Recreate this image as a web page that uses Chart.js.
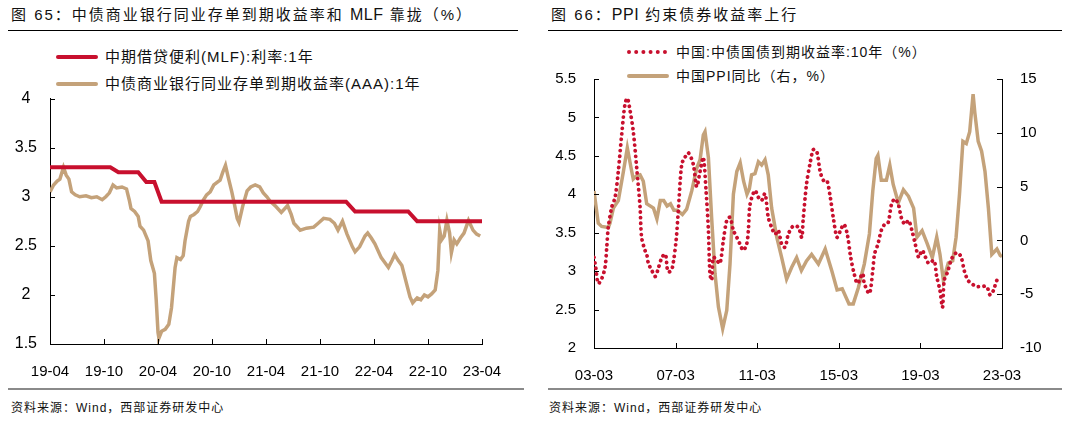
<!DOCTYPE html>
<html>
<head>
<meta charset="utf-8">
<script src="https://cdn.jsdelivr.net/npm/chart.js@4"></script>
<style>
  body { margin:0; width:1069px; height:424px; background:#fff; position:relative; overflow:hidden;
         font-family:'Liberation Sans','Noto Sans CJK SC',sans-serif; color:#111; }
  .abs { position:absolute; white-space:nowrap; }
  .title { font-size:15px; letter-spacing:2px; line-height:18px; }
  .title b { font-weight:normal; letter-spacing:0.5px; font-size:16px; }
  .rule { height:1px; background:#000; }
  .foot { height:2px; background:#8a8a8a; }
  .src { font-size:12px; letter-spacing:1px; line-height:14px; }
  .leg { font-size:15px; letter-spacing:1px; line-height:18px; }
  .leg2 { font-size:14px; letter-spacing:1px; line-height:18px; }
  canvas { position:absolute; }
</style>
</head>
<body>
<div class="abs title" style="left:11px;top:6px">图 65：中债商业银行同业存单到期收益率和 <b>MLF</b> 靠拢（%）</div>
<div class="abs rule" style="left:8px;top:30px;width:510px"></div>
<div class="abs title" style="left:551px;top:6px">图 66：<b>PPI</b> 约束债券收益率上行</div>
<div class="abs rule" style="left:548px;top:30px;width:514px"></div>

<div class="abs" style="left:56px;top:55px;width:42px;height:4px;background:#C8102E;border-radius:2px"></div>
<div class="abs leg" style="left:105px;top:48px">中期借贷便利(MLF):利率:1年</div>
<div class="abs" style="left:56px;top:82px;width:42px;height:4px;background:#C4A27A;border-radius:2px"></div>
<div class="abs leg" style="left:105px;top:75px">中债商业银行同业存单到期收益率(AAA):1年</div>

<div class="abs" style="left:627px;top:50px;width:40px;height:0;border-top:4px dotted #C8102E"></div>
<div class="abs leg2" style="left:676px;top:43px">中国:中债国债到期收益率:10年（%）</div>
<div class="abs" style="left:627px;top:74px;width:42px;height:4px;background:#C4A27A;border-radius:2px"></div>
<div class="abs leg2" style="left:676px;top:67px">中国PPI同比（右，%）</div>

<canvas id="c1" width="530" height="296" style="left:0;top:84px;width:530px;height:296px"></canvas>
<canvas id="c2" width="529" height="320" style="left:540px;top:60px;width:529px;height:320px"></canvas>

<div class="abs foot" style="left:8px;top:388px;width:516px"></div>
<div class="abs foot" style="left:548px;top:388px;width:514px"></div>
<div class="abs src" style="left:11px;top:401px">资料来源：Wind，西部证券研发中心</div>
<div class="abs src" style="left:549px;top:401px">资料来源：Wind，西部证券研发中心</div>

<script>
// ---- left chart: months since 2019-04
var leftTicks = ["19-04","19-10","20-04","20-10","21-04","21-10","22-04","22-10","23-04"];
var mlfMonths = [0, 6.7, 7.6, 9.8, 10.7, 11.6, 12.4, 32.9, 33.9, 39.8, 40.8, 48];
var mlfRate   = [3.30, 3.30, 3.25, 3.25, 3.15, 3.15, 2.95, 2.95, 2.85, 2.85, 2.75, 2.75];
var ncdMonths = [0,0.4,0.8,1.1,1.5,1.8,2.1,2.4,2.8,3.3,4.0,4.6,5.2,5.8,6.2,6.6,7.0,7.4,8.0,8.5,
  8.8,9.0,9.4,9.8,10.0,10.4,10.9,11.2,11.6,11.8,12.0,12.1,12.4,12.8,13.2,13.5,13.9,14.1,14.5,14.8,
  15.0,15.4,15.6,16.0,16.4,16.7,17.0,17.4,17.8,18.2,18.6,18.9,19.2,19.5,19.8,20.2,20.5,20.8,21.0,21.4,
  21.9,22.3,22.8,23.3,23.7,24.1,24.5,25.0,25.7,26.4,26.8,27.1,27.8,28.5,29.3,29.8,30.4,31.1,31.6,32.0,
  32.5,33.0,33.6,33.9,34.4,35.0,35.3,35.7,36.1,36.8,37.2,37.6,38.0,38.3,38.7,39.1,39.6,40.0,40.3,40.8,
  41.2,41.6,42.0,42.4,42.8,43.1,43.3,43.5,43.8,44.1,44.4,44.6,44.9,45.2,45.6,46.0,46.5,47.0,47.4,47.8];
var ncdYield  = [3.05,3.12,3.16,3.18,3.30,3.22,3.18,3.05,3.02,3.00,3.01,2.99,3.00,2.97,3.00,3.04,3.12,3.09,3.10,3.08,
  2.97,2.88,2.85,2.80,2.70,2.66,2.55,2.35,2.22,1.95,1.62,1.56,1.63,1.65,1.70,1.87,2.28,2.38,2.36,2.40,
  2.55,2.75,2.80,2.82,2.85,2.90,2.96,3.02,3.05,3.12,3.15,3.17,3.25,3.32,3.20,3.05,2.92,2.78,2.74,2.90,
  3.06,3.10,3.12,3.10,3.04,3.00,2.95,2.91,2.84,2.91,2.82,2.73,2.66,2.68,2.69,2.73,2.78,2.77,2.73,2.66,
  2.75,2.62,2.49,2.44,2.49,2.60,2.63,2.58,2.52,2.38,2.33,2.28,2.35,2.41,2.35,2.30,2.12,1.98,1.92,1.97,
  1.95,2.00,1.98,2.01,2.05,2.25,2.66,2.56,2.60,2.76,2.63,2.43,2.56,2.52,2.58,2.63,2.76,2.66,2.62,2.60];

// ---- right chart: months since 2003-03
var rightTicks = ["03-03","07-03","11-03","15-03","19-03","23-03"];
var bondMonths = [0,1,2.5,4.5,6.5,7.5,8.4,10.4,12.4,14.3,16.3,18.2,19.6,21.2,23.1,25.1,27.1,28,30,31,
  32,34,36,38,40,42,43.5,45.5,46.7,48.3,49.6,51.6,53.5,55.5,58.4,60.4,62.4,64.3,65.9,67.3,
  68.2,69.2,70.2,72.2,74.1,76.1,78.1,80,82,84,85.9,87.8,89.8,90.8,91.8,94.7,96.7,98.6,100.6,102.5,
  104.5,106.5,108.4,110.4,112.4,114.3,117.3,120.2,122.2,123,125,127,129,131,133,135,137,139,141,143,
  145,147,149,151,153,155,158,159,162,164,165,167,169,171,173,175,177,179,181,183,
  185,187,189,191,193,195,197,200,201.6,203.5,205,206,208,210,212,214,216,218,220,222,
  225,228,231,233,235,237,239];
var bondYield = [3.18,3.05,2.84,2.90,3.05,3.31,3.57,3.83,3.96,4.30,4.78,5.17,5.25,5.09,4.82,4.35,3.83,3.44,3.27,3.22,
  3.10,3.01,2.93,3.05,3.18,3.22,2.99,3.01,3.12,3.40,3.79,4.39,4.48,4.54,4.39,4.10,4.30,4.48,4.05,3.53,
  2.97,2.88,3.18,3.14,3.10,3.40,3.66,3.70,3.53,3.44,3.35,3.27,3.35,3.53,3.87,4.05,3.96,3.92,4.01,3.70,
  3.57,3.48,3.53,3.35,3.31,3.48,3.59,3.57,3.44,3.66,4.13,4.39,4.58,4.56,4.30,4.18,4.18,3.96,3.66,3.44,
  3.53,3.61,3.48,3.18,2.97,2.84,2.97,2.84,2.71,3.01,3.22,3.35,3.53,3.61,3.63,3.87,3.94,3.87,3.68,3.61,
  3.66,3.53,3.35,3.18,3.27,3.18,3.10,3.14,2.93,2.75,2.53,2.88,2.99,3.14,3.22,3.24,3.18,2.99,2.88,2.84,
  2.80,2.80,2.80,2.69,2.75,2.88,2.90];
var ppiMonths = [0,2.5,4.5,8.4,9.4,11.4,14.3,17.3,19.6,22.2,23.1,25.1,27.1,29,31,35,37,39,41,43,
  45,47,49,52,54.5,57.5,60.4,62.4,64.3,65.3,67.3,69.2,71.2,73.2,75.7,78.1,80,82,84,86,
  88,90,91.4,92.7,94.7,96.7,98.6,100.6,102.5,104.5,107.5,110.4,113.3,116.3,119.2,122,125,128,132,136,
  140,143,146,150,152.5,155.5,159,162,164,166,167,169,172,174,176,179,182,185,188,190,
  193,196,199,201.6,203.5,205.5,208.4,211,213,215,217,219,221,223,224,226,228,230,232,234,
  237,239,240];
var ppiYoY = [4.6,1.6,1.3,1.2,1.6,3.0,3.7,6.4,8.6,6.4,5.7,6.0,6.1,5.5,3.4,3.0,2.0,3.7,3.7,3.2,
  3.4,2.8,2.8,2.4,2.9,4.6,6.7,7.5,9.8,10.1,7.7,2.1,-3.1,-6.2,-8.2,-6.5,-2.2,4.3,6.4,7.2,
  5.5,4.3,4.8,6.1,6.2,7.3,7.0,7.5,6.1,3.0,0.3,-1.6,-3.6,-2.5,-1.6,-2.8,-1.9,-1.3,-2.2,-0.8,
  -2.9,-4.6,-4.5,-5.9,-5.9,-4.4,-2.2,0.6,4.6,7.6,7.9,5.6,5.6,7.0,5.2,3.5,4.7,4.1,3.0,0.3,
  0.9,-0.3,-1.6,0.3,-1.3,-3.7,-2.1,-1.9,0.3,4.3,9.2,9.0,10.1,13.6,11.9,9.2,8.3,6.4,3.0,-1.3,
  -0.8,-1.4,-1.5];

var RED = "#C8102E", TAN = "#C4A27A";
var FONT = { family: "'Liberation Sans','Noto Sans CJK SC',sans-serif", size: 15 };
var YFONT = { family: "'Liberation Sans','Noto Sans CJK SC',sans-serif", size: 16 };

function pts(xs, ys) { return xs.map(function (x, i) { return { x: x, y: ys[i] }; }); }

// small tick marks drawn inward from each axis line
var innerTicks = {
  id: 'innerTicks',
  afterDraw: function (chart) {
    var ctx = chart.ctx, a = chart.chartArea;
    ctx.save();
    ctx.strokeStyle = '#000';
    ctx.lineWidth = 1;
    Object.values(chart.scales).forEach(function (s) {
      s.ticks.forEach(function (t) {
        var p = Math.round(s.getPixelForValue(t.value)) + 0.5;
        ctx.beginPath();
        if (s.axis === 'x') { ctx.moveTo(p, a.bottom); ctx.lineTo(p, a.bottom - 5); }
        else if (s.position === 'left') { ctx.moveTo(a.left, p); ctx.lineTo(a.left + 5, p); }
        else { ctx.moveTo(a.right, p); ctx.lineTo(a.right - 5, p); }
        ctx.stroke();
      });
    });
    ctx.restore();
  }
};

function fmt(v) { return String(Number(v.toFixed(1))); }

new Chart(document.getElementById("c1"), {
  type: 'line',
  data: {
    datasets: [
      { label: "中期借贷便利(MLF):利率:1年", data: pts(mlfMonths, mlfRate),
        borderColor: RED, borderWidth: 4, pointRadius: 0, tension: 0 },
      { label: "中债商业银行同业存单到期收益率(AAA):1年", data: pts(ncdMonths, ncdYield),
        borderColor: TAN, borderWidth: 3.5, pointRadius: 0, tension: 0 }
    ]
  },
  options: {
    responsive: false, animation: false,
    layout: { padding: { top: 8, right: 48, left: 0, bottom: 0 } },
    plugins: { legend: { display: false }, tooltip: { enabled: false } },
    scales: {
      x: {
        type: 'linear', min: 0, max: 48,
        grid: { display: false }, border: { color: '#000', width: 1 },
        ticks: { stepSize: 6, autoSkip: false, maxRotation: 0, color: '#000', font: FONT, padding: 11,
          callback: function (v) { return leftTicks[Math.round(v / 6)]; } },
        afterFit: function (s) { s.height = 36; }
      },
      y: {
        min: 1.5, max: 4,
        grid: { display: false }, border: { color: '#000', width: 1 },
        ticks: { stepSize: 0.5, color: '#000', font: YFONT, padding: 5, crossAlign: 'center', callback: fmt },
        afterFit: function (s) { s.width = 50; }
      }
    }
  },
  plugins: [innerTicks]
});

new Chart(document.getElementById("c2"), {
  type: 'line',
  data: {
    datasets: [
      { label: "中国:中债国债到期收益率:10年（%）", data: pts(bondMonths, bondYield), yAxisID: 'y',
        borderColor: RED, borderWidth: 3.8, borderDash: [0.1, 5.5], borderCapStyle: 'round',
        pointRadius: 0, tension: 0.3 },
      { label: "中国PPI同比（右，%）", data: pts(ppiMonths, ppiYoY), yAxisID: 'y2',
        borderColor: TAN, borderWidth: 3.5, pointRadius: 0, tension: 0 }
    ]
  },
  options: {
    responsive: false, animation: false,
    layout: { padding: { top: 17, right: 0, left: 0, bottom: 0 } },
    plugins: { legend: { display: false }, tooltip: { enabled: false } },
    scales: {
      x: {
        type: 'linear', min: 0, max: 240,
        grid: { display: false }, border: { color: '#000', width: 1 },
        ticks: { stepSize: 48, autoSkip: false, maxRotation: 0, color: '#000', font: FONT, padding: 11,
          callback: function (v) { return rightTicks[Math.round(v / 48)]; } },
        afterFit: function (s) { s.height = 32; }
      },
      y: {
        position: 'left', min: 2, max: 5.5,
        grid: { display: false }, border: { color: '#000', width: 1 },
        ticks: { stepSize: 0.5, color: '#000', font: FONT, padding: 10, callback: fmt },
        afterFit: function (s) { s.width = 54; }
      },
      y2: {
        position: 'right', min: -10, max: 15,
        grid: { display: false }, border: { color: '#000', width: 1 },
        ticks: { stepSize: 5, color: '#000', font: FONT, padding: 10 },
        afterFit: function (s) { s.width = 67; }
      }
    }
  },
  plugins: [innerTicks]
});
</script>
</body>
</html>
